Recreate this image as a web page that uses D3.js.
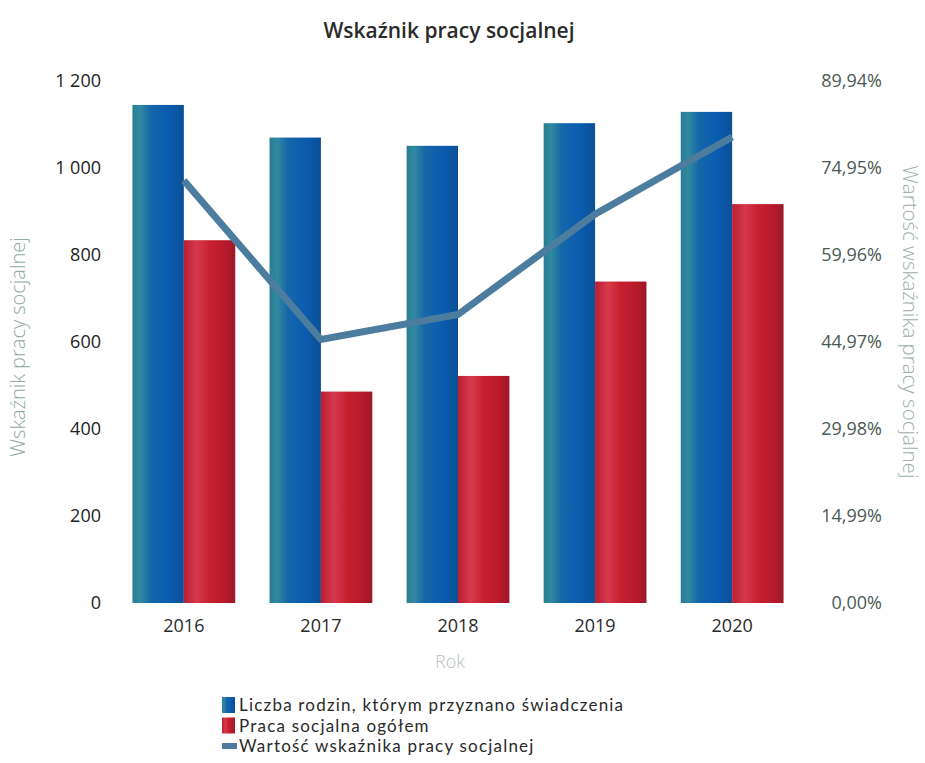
<!DOCTYPE html>
<html><head><meta charset="utf-8">
<script src="https://cdn.jsdelivr.net/npm/d3@7"></script>
<style>body{margin:0;background:#fff;} text{font-family:"Open Sans",sans-serif;}</style>
</head><body>
<svg id="c" width="925" height="763"></svg>
<script>
const years = ["2016","2017","2018","2019","2020"];
const families = [1145, 1070, 1051, 1103, 1129];
const socialWork = [834, 486, 522, 739, 917];
const indicator = [72.8, 45.4, 49.7, 67.0, 80.3];
const leftTicks = [0,200,400,600,800,1000,1200];
const rightTicks = [0,14.99,29.98,44.97,59.96,74.95,89.94];
const seriesNames = ["Liczba rodzin, którym przyznano świadczenia","Praca socjalna ogółem","Wartość wskaźnika pracy socjalnej"];

const svg = d3.select("#c");
const m = {l:116, r:807, t:81, b:603};
const x = d3.scaleBand().domain(years).range([116, 800]).paddingInner(0.25).paddingOuter(0.12);
const xs = d3.scaleBand().domain([0,1]).range([0, x.bandwidth()]);
const y = d3.scaleLinear().domain([0,1200]).range([m.b, m.t]);
const y2 = d3.scaleLinear().domain([0,89.94]).range([m.b, m.t]);

const defs = svg.append("defs");
const gb = defs.append("linearGradient").attr("id","gb");
[[0,"#2a7d93"],[0.15,"#2f8aa0"],[0.35,"#1667a8"],[0.7,"#0a5cb0"],[1,"#0c4f95"]].forEach(s=>gb.append("stop").attr("offset",s[0]).attr("stop-color",s[1]));
const gr = defs.append("linearGradient").attr("id","gr");
[[0,"#b81d33"],[0.25,"#d53a4c"],[0.5,"#c7202f"],[0.8,"#b71a2b"],[1,"#9e1828"]].forEach(s=>gr.append("stop").attr("offset",s[0]).attr("stop-color",s[1]));

svg.append("text").attr("x",449).attr("y",38).attr("text-anchor","middle")
  .attr("font-size",21).attr("font-weight",600).attr("fill","#2b2b2b").text("Wskaźnik pracy socjalnej");

// bars
svg.append("g").selectAll("rect").data(years).join("rect")
  .attr("x",d=>x(d)+xs(0)).attr("width",xs.bandwidth())
  .attr("y",(d,i)=>y(families[i])).attr("height",(d,i)=>y(0)-y(families[i]))
  .attr("fill","url(#gb)");
svg.append("g").selectAll("rect").data(years).join("rect")
  .attr("x",d=>x(d)+xs(1)).attr("width",xs.bandwidth())
  .attr("y",(d,i)=>y(socialWork[i])).attr("height",(d,i)=>y(0)-y(socialWork[i]))
  .attr("fill","url(#gr)");

// line
const line = d3.line().x((d,i)=>x(years[i])+x.bandwidth()/2).y(d=>y2(d));
svg.append("path").datum(indicator).attr("d",line).attr("fill","none")
  .attr("stroke","#4c7c9e").attr("stroke-width",7).attr("stroke-linejoin","miter");

// axes
const la = svg.append("g").attr("transform",`translate(101,0)`)
  .call(d3.axisLeft(y).tickValues(leftTicks).tickSize(0).tickFormat(d=>d3.format(",")(d).replace(/,/g," ")));
la.select(".domain").remove();
la.selectAll("text").attr("font-size",18).attr("fill","#222").attr("x",0).attr("font-family","Open Sans");

const ra = svg.append("g").attr("transform",`translate(882,0)`)
  .call(d3.axisLeft(y2).tickValues(rightTicks).tickSize(0).tickFormat(d=>d.toFixed(2).replace(".",",")+"%"));
ra.select(".domain").remove();
ra.selectAll("text").attr("font-size",18).attr("fill","#4a5a55").attr("x",0).attr("font-family","Open Sans");

const xa = svg.append("g").attr("transform",`translate(0,${m.b+10})`)
  .call(d3.axisBottom(x).tickSize(0));
xa.select(".domain").remove();
xa.selectAll("text").attr("font-size",18).attr("fill","#2a2a2a").attr("dy","0.9em").attr("font-family","Open Sans");

svg.append("text").attr("transform","translate(25,347) rotate(-90)").attr("text-anchor","middle")
  .attr("font-size",20).attr("font-weight",300).attr("fill","#8fa9a3").text("Wskaźnik pracy socjalnej");
svg.append("text").attr("transform","translate(903,322) rotate(90)").attr("text-anchor","middle")
  .attr("font-size",20.5).attr("font-weight",300).attr("fill","#9ab0ab").text("Wartość wskaźnika pracy socjalnej");
svg.append("text").attr("x",450).attr("y",668).attr("text-anchor","middle")
  .attr("font-size",18).attr("font-weight",300).attr("fill","#b5c2c0").text("Rok");

// legend
const lg = svg.append("g");
const lcol = ["url(#gb)","url(#gr)","#4c7c9e"];
seriesNames.forEach((n,i)=>{
  const yy = 705 + i*20.5;
  if(i<2) lg.append("rect").attr("x",222).attr("y",yy-8).attr("width",13).attr("height",16).attr("fill",lcol[i]);
  else lg.append("rect").attr("x",222).attr("y",yy-3).attr("width",15).attr("height",6).attr("fill",lcol[i]);
  lg.append("text").attr("x",239).attr("y",yy+6).attr("font-size",17).attr("letter-spacing",1.2)
    .style("font-family","Lato, sans-serif").attr("fill","#2a2a2a").text(n);
});
</script>
</body></html>
